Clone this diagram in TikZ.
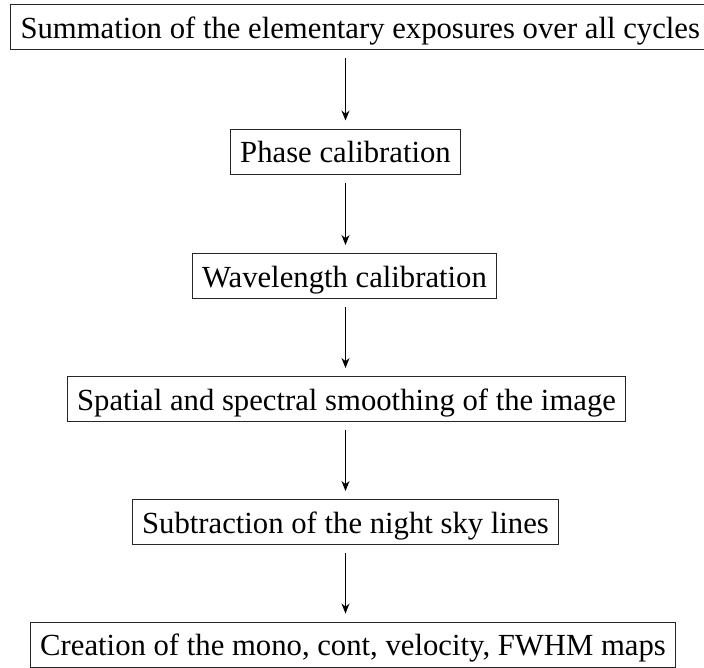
\documentclass[tikz,border=0pt]{standalone}
\usepackage{fontspec}
\setmainfont{Liberation Serif}
\usetikzlibrary{arrows.meta}
\begin{document}
\begin{tikzpicture}[x=1pt,y=-1pt,
  stepbox/.style={draw=black!85,line width=1pt,minimum height=45pt,inner xsep=10pt,inner ysep=0pt,
    font=\fontsize{30.7}{34}\selectfont, text height=25pt, text depth=3pt},
  flow/.style={-{Stealth[length=10pt,width=8pt]},line width=1pt,shorten <=8pt,shorten >=8pt}]
\useasboundingbox (0,0) rectangle (704,667);
\node[stepbox,anchor=west] (s1) at (10,27) {Summation of the elementary exposures over all cycles};
\node[stepbox] (s2) at (345.5,151.5) {Phase calibration};
\node[stepbox] (s3) at (344.5,276) {Wavelength calibration};
\node[stepbox] (s4) at (346.5,399) {Spatial and spectral smoothing of the image};
\node[stepbox] (s5) at (345.5,522) {Subtraction of the night sky lines};
\node[stepbox] (s6) at (353,644.5) {Creation of the mono, cont, velocity, FWHM maps};
\draw[flow] (s1.south -| s2) -- (s2.north);
\draw[flow] (s2.south) -- (s2.south |- s3.north);
\draw[flow] (s3.south -| s2) -- (s2.south |- s4.north);
\draw[flow] (s4.south -| s2) -- (s2.south |- s5.north);
\draw[flow] (s5.south -| s2) -- (s2.south |- s6.north);
\end{tikzpicture}
\end{document}
